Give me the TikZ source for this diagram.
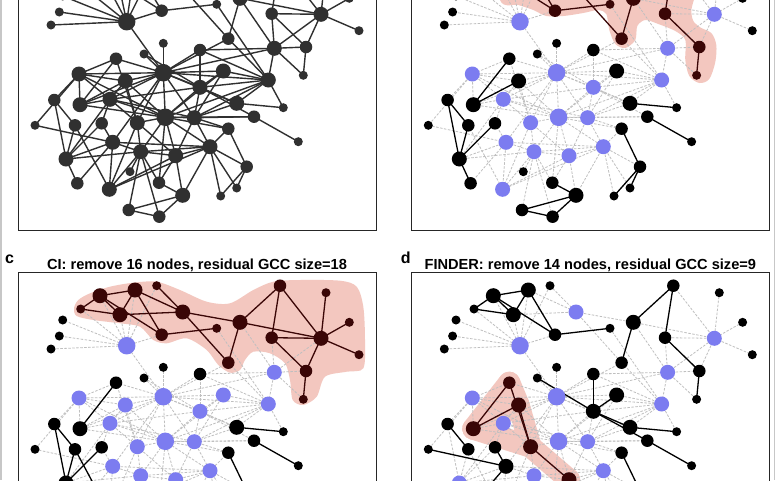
\documentclass[tikz,border=0pt]{standalone}
\usepackage{fontspec}
\setmainfont{Liberation Sans}

\definecolor{cutblue}{RGB}{124,124,240}
\definecolor{gccred}{RGB}{58,6,6}
\definecolor{hullpink}{RGB}{243,199,191}
\definecolor{netgray}{RGB}{48,48,48}

\tikzset{vtx/.style = {circle, inner sep = 0pt},
         nsml/.style = {vtx, minimum size = 9pt},
         nmed/.style = {vtx, minimum size = 12.5pt},
         nbig/.style = {vtx, minimum size = 15pt},
         nhub/.style = {vtx, minimum size = 17.5pt},
         keptnode/.style = {fill = black},
         cutnode/.style = {fill = cutblue},
         gccnode/.style = {fill = gccred},
         keptedge/.style = {draw = black, line width = 1.3pt},
         gccedge/.style = {draw = gccred, line width = 1.3pt},
         cutedge/.style = {draw = black!25, line width = 0.8pt, dash pattern = on 2.5pt off 1.5pt},
         hullband/.style = {draw = hullpink, line width = 22pt, line cap = round, line join = round},
         frame/.style = {draw = black!85, line width = 1pt},
         title/.style = {font = \bfseries\fontsize{14.6}{16}\selectfont, anchor = base},
         tag/.style = {font = \bfseries\fontsize{16}{18}\selectfont, anchor = base west}}

% node number / x / y / size
\def\netnodes{1/100/-28.3/nbig,2/135/-34/nbig,3/156.7/-38.3/nsml,4/80.7/-15/nsml,5/120/-9.3/nbig,6/182.7/-12/nbig,7/161.7/10.7/nmed,8/216.7/4.3/nsml,9/240/-1.7/nbig,10/280/-38.3/nmed,11/326/-31.3/nsml,12/349.3/-1.7/nsml,13/321/14.3/nbig,14/271.7/13.7/nmed,15/228.3/38.7/nmed,16/359/30.7/nsml,17/306/47/nmed,18/303.3/75.3/nsml,19/274.3/48.3/nbig,20/126.7/21.7/nhub,21/62.7/-4/nsml,22/59.3/12/nsml,23/51/25/nsml,24/163.3/43.3/nsml,25/144/54/nsml,26/200/50/nmed,27/116/58.7/nmed,28/79/74/nbig,29/163.3/72.7/nhub,30/223.3/71/nbig,31/268.3/80/nbig,32/125.3/81/nbig,33/200/87.3/nbig,34/54.3/100/nmed,35/80/104.7/nbig,36/110/99.3/nbig,37/236.7/103.3/nbig,38/283.3/107.7/nsml,39/254/116.7/nmed,40/35/125.3/nsml,41/75/125.3/nmed,42/101.7/123.3/nmed,43/137.3/122.7/nbig,44/165.3/117.3/nhub,45/194.3/117.7/nbig,46/228.3/128.7/nmed,47/298.3/141.7/nsml,48/112.7/142.3/nbig,49/140.7/151.7/nbig,50/175.7/155.7/nbig,51/210/146.7/nbig,52/66/159/nbig,53/246.7/166.7/nmed,54/130/171.7/nsml,55/77.3/183.3/nmed,56/159/182.7/nmed,57/109.3/189.3/nbig,58/182.7/195.3/nbig,59/236.7/188/nsml,60/220.7/196/nsml,61/128.7/210/nmed,62/159.3/216.7/nmed}

\def\netedges{1/4,1/2,1/5,1/7,2/5,2/7,2/6,3/6,4/5,5/6,6/9,6/15,7/8,9/10,9/13,9/15,10/13,10/14,13/14,13/17,11/13,12/13,13/16,14/17,17/18,20/21,20/22,20/23,20/4,20/1,20/5,20/2,20/3,20/7,20/29,19/14,19/13,19/17,19/18,19/31,19/29,19/26,19/9,15/29,15/31,8/31,24/29,25/29,25/33,26/29,26/33,26/31,27/28,27/29,27/35,27/43,28/29,28/32,28/34,28/35,28/36,28/44,29/32,32/35,32/36,32/43,32/44,29/30,29/31,29/33,29/35,29/36,29/43,29/44,29/45,29/48,29/37,30/31,30/33,30/44,30/45,31/33,31/44,31/38,31/45,31/37,33/37,33/39,33/44,33/45,33/36,28/40,34/41,34/52,35/36,35/44,36/43,36/44,36/42,36/45,36/52,37/38,37/45,39/47,39/45,39/44,40/48,41/52,41/57,42/52,42/48,43/44,43/49,43/57,43/50,44/45,44/46,44/49,44/50,44/51,44/56,45/46,45/50,45/51,46/51,46/53,48/49,48/52,48/57,48/51,49/50,49/51,49/54,49/56,49/61,49/62,49/57,50/51,50/56,50/58,50/57,51/58,51/53,51/59,51/60,51/57,52/55,52/49,55/48,53/59,53/60,56/58,58/61,58/62,61/62}

% removed nodes and residual GCC of each panel
\def\cuta{,}
\def\gcca{,}
\def\cutb{,20,13,19,31,29,33,28,36,44,45,43,48,49,50,51,57,}
\def\gccb{,1,2,3,4,5,6,7,8,9,10,14,15,17,18,}
\def\cutc{,20,19,28,32,29,30,33,31,36,43,44,45,48,49,50,51,}
\def\gccc{,1,2,3,4,5,6,7,8,9,10,11,12,13,14,15,16,17,18,}
\def\cutd{,6,20,13,19,28,29,31,36,44,45,49,51,52,57,}
\def\gccd{,27,32,35,43,50,56,58,61,62,}

\def\gccword{gcc}
\def\cutword{cut}
\makeatletter
\newcommand\setstate[2]{%
  \def\vstate{kept}%
  \edef\tmp{\noexpand\in@{,#2,}{\csname gcc#1\endcsname}}\tmp
  \ifin@\def\vstate{gcc}\fi
  \edef\tmp{\noexpand\in@{,#2,}{\csname cut#1\endcsname}}\tmp
  \ifin@\def\vstate{cut}\fi}
\makeatother
\newcommand\edgestate[3]{%
  \setstate{#1}{#2}\let\ustate\vstate
  \setstate{#1}{#3}%
  \def\estate{kept}%
  \ifx\ustate\gccword\ifx\vstate\gccword\def\estate{gcc}\fi\fi
  \ifx\ustate\cutword\def\estate{cut}\fi
  \ifx\vstate\cutword\def\estate{cut}\fi}
\newcommand\placenet[1]{%
  \foreach \i/\x/\y/\s in \netnodes {\coordinate (#1\i) at (\x,\y);}}
\newcommand\drawnet[1]{%
  \foreach \u/\v in \netedges {\edgestate{#1}{\u}{\v}%
    \ifx\estate\cutword \draw [cutedge] (#1\u) -- (#1\v);\fi}
  \foreach \u/\v in \netedges {\edgestate{#1}{\u}{\v}%
    \ifx\estate\cutword\else
      \edef\cmd{\noexpand\draw [\estate edge] (#1\u) -- (#1\v);}\cmd
    \fi}
  \foreach \i/\x/\y/\s in \netnodes {\setstate{#1}{\i}%
    \edef\cmd{\noexpand\node [\s, \vstate node] (#1v\i) at (#1\i) {};}\cmd}
  \draw [frame] (18,-52) rectangle (376.5,230);}

\begin{document}
\begin{tikzpicture}[x=1pt, y=-1pt]
  \useasboundingbox [fill=white] (0,0) rectangle (776,480);
  \clip (0,0) rectangle (776,480);
  \draw [black!22, line width=1.6pt] (0.8,0) -- (0.8,480);
  \draw [black!22, line width=1.6pt] (774.5,0) -- (774.5,480);

  \begin{scope}[keptnode/.style={fill=netgray}, keptedge/.style={draw=netgray, line width=1.4pt}]
    \placenet{a}
    \drawnet{a}
  \end{scope}

  \begin{scope}[shift={(393.3,0)}]
    \placenet{b}
    \fill [hullpink] plot [smooth cycle] coordinates {(100,-60) (106.7,0) (125,5) (140,10) (153,16) (170,16) (190,13) (205,10) (213,14) (216,30) (222,44) (232,48) (242,40) (244,26) (252,20) (265,24) (282,31) (292,40) (292,60) (296,76) (306,83) (316,79) (322,62) (323,45) (318,33) (305,26) (298,12) (298,-60)};
    \drawnet{b}
  \end{scope}

  \begin{scope}[shift={(0,324)}]
    \placenet{c}
    \fill [hullpink] plot [smooth cycle] coordinates {(74,-15.7) (78.3,-24) (90,-30.7) (110,-37.3) (133.3,-41.3) (156.7,-42.3) (180,-34) (206.7,-22.3) (230,-20.7) (253.3,-34) (273.3,-42.3) (300,-44) (340,-43.3) (356.7,-37.3) (363.3,-17.3) (365,16) (363.3,44.3) (346.7,47.7) (325,52.7) (316.7,72.7) (303.3,81) (292.7,76) (290,56) (285,39.3) (270,29.3) (253.3,27.7) (245,36) (240,46) (230,48.7) (218.3,41) (206.7,26) (186.7,14.3) (166.7,19.3) (153.3,16) (140,2.7) (120,-0.7) (93.3,-4) (76.7,-8)};
    \drawnet{c}
    \node [tag] (ctag) at (1.5,-60.7) {c};
    \node [title] (ctitle) at (197,-54.7) {CI: remove 16 nodes, residual GCC size=18};
  \end{scope}

  \begin{scope}[shift={(393.3,324)}]
    \placenet{d}
    \foreach \u/\v in {27/35,27/32,32/35,32/43,35/43,43/50,50/56,50/58,56/58,58/61,58/62,61/62}
      \draw [hullband] (d\u) -- (d\v);
    \drawnet{d}
    \node [tag] (dtag) at (4,-60.7) {d};
    \node [title] (dtitle) at (197,-54.7) {FINDER: remove 14 nodes, residual GCC size=9};
  \end{scope}
\end{tikzpicture}
\end{document}
